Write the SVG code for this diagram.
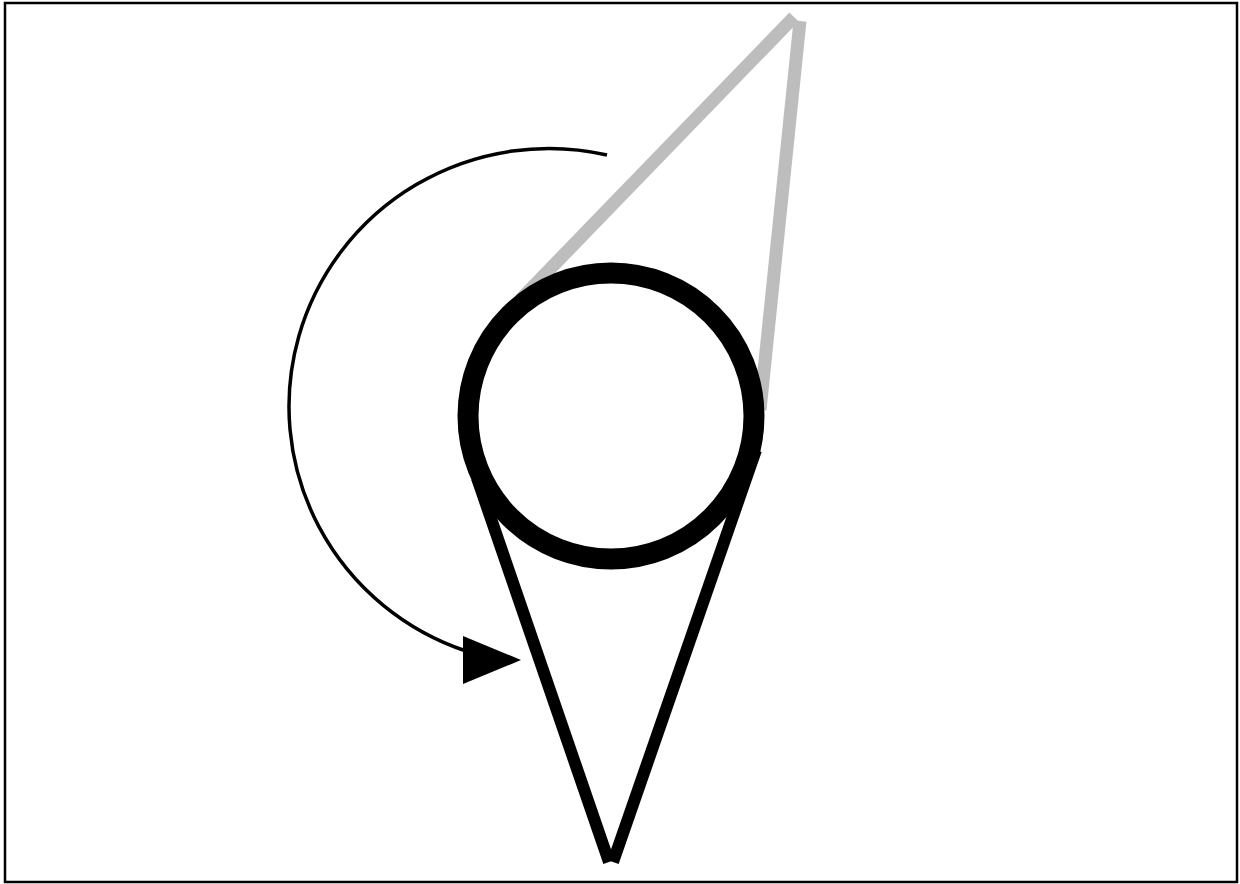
<svg xmlns="http://www.w3.org/2000/svg" width="1240" height="884" viewBox="0 0 1240 884">
<style>
.gray{stroke:#bdbdbd;stroke-width:13;fill:none;stroke-linecap:butt}
.blk{stroke:#000;stroke-width:12;fill:none;stroke-linecap:butt}
.arc{stroke:#000;stroke-width:3.5;fill:none}
</style>
<rect x="5" y="3" width="1232" height="879" fill="#fff" stroke="#000" stroke-width="2.5"/>
<g id="connectors">
<line class="gray" x1="794" y1="17" x2="520" y2="300"/>
<line class="gray" x1="800" y1="21" x2="760" y2="410"/>
<line class="blk" x1="477" y1="478" x2="609" y2="862"/>
<line class="blk" x1="756" y1="450" x2="613" y2="862"/>
<path class="arc" d="M 607 155 A 260 258 0 0 0 466 651"/>
<polygon points="463,636 463,684 521,660" fill="#000"/>
</g>
<g id="circle">
<circle cx="611" cy="416" r="143" fill="#fff" stroke="#000" stroke-width="21"/>
</g>
</svg>
